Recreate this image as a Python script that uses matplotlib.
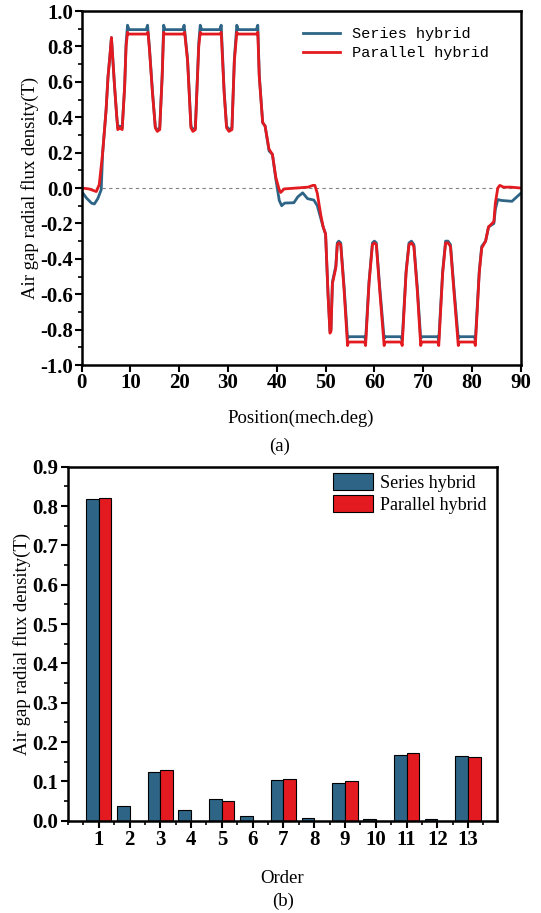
import matplotlib
matplotlib.use("Agg")
import matplotlib.pyplot as plt
from matplotlib.ticker import MultipleLocator

# ---- data ----
pos_series = [0, 1.0, 2.0, 2.6, 3.3, 4.0, 4.3, 5.0, 5.4, 5.8, 6.1, 6.4, 6.75, 7.2, 7.4, 7.8, 8.3, 8.8,
              9.1, 9.4, 9.7, 13.2, 13.5, 13.9, 14.5, 15.1, 15.5, 16.0, 16.5, 16.8, 17.1, 20.7, 21.0,
              21.7, 22.4, 22.8, 23.3, 24.0, 24.3, 24.6, 28.3, 28.6, 29.2, 29.7, 30.2, 30.8, 31.3,
              31.8, 32.1, 35.8, 36.1, 36.4, 37.1, 37.6, 38.4, 39.1, 39.8, 40.5, 41.0, 41.6, 43.5,
              44.3, 45.3, 46.3, 47.6, 48.3, 49.0, 49.5, 50.0, 50.5, 50.9, 51.1, 51.4, 52.1, 52.4,
              52.7, 53.1, 53.8, 54.5, 54.8, 58.0, 58.2, 58.9, 59.6, 60.0, 60.4, 61.1, 62.0, 62.3,
              65.5, 65.7, 66.5, 67.1, 67.6, 68.1, 68.8, 69.5, 69.8, 73.0, 73.2, 74.0, 74.6, 75.1,
              75.6, 76.3, 77.2, 77.5, 80.5, 80.7, 81.5, 82.0, 82.8, 83.4, 84.5, 84.8, 85.3, 86.0,
              88.2, 90]
flux_series = [-0.02, -0.057, -0.085, -0.09, -0.06, -0.01, 0.2, 0.44, 0.63, 0.75, 0.85, 0.72, 0.57,
               0.40, 0.34, 0.35, 0.34, 0.57, 0.82, 0.92, 0.895, 0.895, 0.92, 0.79, 0.55, 0.34, 0.33,
               0.34, 0.64, 0.92, 0.895, 0.895, 0.92, 0.73, 0.35, 0.33, 0.34, 0.82, 0.92, 0.895,
               0.895, 0.92, 0.55, 0.35, 0.33, 0.34, 0.73, 0.92, 0.895, 0.895, 0.92, 0.64, 0.37,
               0.35, 0.21, 0.19, 0.05, -0.07, -0.10, -0.085, -0.083, -0.05, -0.027, -0.06, -0.068,
               -0.10, -0.17, -0.22, -0.26, -0.60, -0.81, -0.80, -0.53, -0.44, -0.31, -0.30, -0.31,
               -0.56, -0.85, -0.84, -0.84, -0.86, -0.53, -0.31, -0.30, -0.31, -0.56, -0.85, -0.84,
               -0.84, -0.86, -0.47, -0.31, -0.30, -0.32, -0.56, -0.85, -0.84, -0.84, -0.86, -0.47,
               -0.30, -0.30, -0.32, -0.56, -0.85, -0.84, -0.84, -0.86, -0.47, -0.33, -0.30, -0.22,
               -0.20, -0.12, -0.065, -0.07, -0.075, -0.03]

pos_parallel = [0, 1.5, 3.0, 3.6, 4.3, 5.0, 5.4, 5.8, 6.1, 6.4, 6.75, 7.2, 7.4, 7.8, 8.3, 8.8, 9.1,
                9.4, 9.6, 13.3, 13.6, 13.9, 14.5, 15.1, 15.5, 16.0, 16.5, 16.8, 17.0, 20.8, 21.1,
                21.7, 22.4, 22.8, 23.3, 24.0, 24.3, 24.5, 28.4, 28.6, 29.2, 29.7, 30.2, 30.8, 31.3,
                31.8, 32.0, 35.9, 36.1, 36.4, 37.1, 37.6, 38.4, 39.1, 39.8, 40.5, 40.8, 41.5, 44.0,
                46.4, 47.4, 47.8, 48.3, 49.0, 49.5, 50.0, 50.5, 50.9, 51.1, 51.4, 52.1, 52.4, 52.7,
                53.1, 53.8, 54.5, 54.7, 58.0, 58.2, 58.9, 59.6, 60.0, 60.4, 61.1, 62.0, 62.2, 65.5,
                65.7, 66.5, 67.1, 67.6, 68.1, 68.8, 69.5, 69.7, 73.0, 73.2, 74.0, 74.6, 75.1, 75.6,
                76.3, 77.2, 77.4, 80.5, 80.7, 81.5, 82.0, 82.8, 83.4, 84.5, 84.8, 85.3, 85.7, 86.5,
                88.0, 90]
flux_parallel = [0.0, -0.005, -0.02, 0.02, 0.2, 0.44, 0.63, 0.75, 0.85, 0.72, 0.57, 0.40, 0.33,
                 0.34, 0.33, 0.57, 0.80, 0.88, 0.87, 0.87, 0.88, 0.78, 0.54, 0.34, 0.32, 0.33, 0.63,
                 0.88, 0.87, 0.87, 0.88, 0.72, 0.34, 0.32, 0.33, 0.80, 0.88, 0.87, 0.87, 0.88, 0.54,
                 0.34, 0.32, 0.33, 0.72, 0.88, 0.87, 0.87, 0.88, 0.63, 0.37, 0.35, 0.22, 0.19, 0.06,
                 -0.01, -0.025, -0.005, 0.0, 0.005, 0.015, 0.015, -0.03, -0.15, -0.22, -0.26, -0.60,
                 -0.82, -0.81, -0.54, -0.45, -0.32, -0.31, -0.32, -0.58, -0.89, -0.87, -0.87, -0.89,
                 -0.54, -0.32, -0.31, -0.32, -0.58, -0.89, -0.87, -0.87, -0.89, -0.48, -0.32, -0.31,
                 -0.33, -0.58, -0.89, -0.87, -0.87, -0.89, -0.48, -0.31, -0.31, -0.33, -0.58, -0.89,
                 -0.87, -0.87, -0.89, -0.48, -0.34, -0.30, -0.22, -0.19, -0.085, 0.0, 0.015, 0.005,
                 0.005, 0.0]

orders = [1, 2, 3, 4, 5, 6, 7, 8, 9, 10, 11, 12, 13]
amp_series = [0.818, 0.037, 0.123, 0.026, 0.055, 0.013, 0.103, 0.007, 0.096, 0.005, 0.166, 0.004, 0.165]
amp_parallel = [0.821, 0.0, 0.129, 0.0, 0.049, 0.0, 0.106, 0.0, 0.100, 0.0, 0.172, 0.0, 0.163]

blue = "#2E6586"
red = "#E31B20"

plt.rcParams['font.family'] = ['Liberation Serif', 'DejaVu Serif']
plt.rcParams['axes.linewidth'] = 1.8
plt.rcParams['axes.unicode_minus'] = False

fig = plt.figure(figsize=(5.41, 9.13), dpi=100)

# ---- (a) waveform ----
ax1 = fig.add_axes([0.151, 0.6002, 0.8115, 0.3877])
ax1.axhline(0, color='gray', lw=0.8, ls=(0, (3, 3)), zorder=1)
ax1.plot(pos_series, flux_series, color=blue, lw=2, label='Series hybrid')
ax1.plot(pos_parallel, flux_parallel, color=red, lw=2, label='Parallel hybrid')
ax1.set_xlim(0, 90)
ax1.set_ylim(-1.0, 1.0)
ax1.xaxis.set_major_locator(MultipleLocator(10))
ax1.yaxis.set_major_locator(MultipleLocator(0.2))
ax1.yaxis.set_minor_locator(MultipleLocator(0.1))
ax1.tick_params(axis='both', which='major', direction='out', length=5, width=1.5,
                labelsize=15, pad=1)
ax1.tick_params(axis='y', which='minor', direction='out', length=3, width=1.2)
for lab in ax1.get_xticklabels() + ax1.get_yticklabels():
    lab.set_fontweight('bold')
ax1.set_xlabel('Position(mech.deg)', fontsize=13.5, labelpad=12)
ax1.set_ylabel('Air gap radial flux density(T)', fontsize=13.5, labelpad=1)
ax1.legend(loc='upper left', bbox_to_anchor=(0.504, 0.955), frameon=False,
           prop={'family': 'Liberation Mono', 'size': 11}, handlelength=2.4,
           labelspacing=0.35, borderpad=0, borderaxespad=0)
fig.text(0.516, 0.511, '(a)', ha='center', va='center', fontsize=13.5)

# ---- (b) harmonic spectrum ----
w = 0.41
ax2 = fig.add_axes([0.1257, 0.1011, 0.7924, 0.3877])
ax2.bar([o - w / 2 for o in orders], amp_series, width=w, color=blue, edgecolor='black',
        lw=0.8, label='Series hybrid')
ax2.bar([o + w / 2 for o in orders], amp_parallel, width=w, color=red, edgecolor='black',
        lw=0.8, label='Parallel hybrid')
ax2.set_xlim(0, 13.93)
ax2.set_ylim(0, 0.9)
ax2.set_xticks(orders)
ax2.xaxis.set_minor_locator(MultipleLocator(0.5))
ax2.yaxis.set_major_locator(MultipleLocator(0.1))
ax2.yaxis.set_minor_locator(MultipleLocator(0.05))
ax2.tick_params(axis='both', which='major', direction='out', length=5, width=1.5,
                labelsize=15, pad=2)
ax2.tick_params(axis='both', which='minor', direction='out', length=3, width=1.2)
for lab in ax2.get_xticklabels() + ax2.get_yticklabels():
    lab.set_fontweight('bold')
ax2.set_xlabel('Order', fontsize=13.5, labelpad=14)
ax2.set_ylabel('Air gap radial flux density(T)', fontsize=13.5, labelpad=1)
ax2.legend(loc='upper left', bbox_to_anchor=(0.618, 0.983), frameon=False, fontsize=13,
           handlelength=2.2, handleheight=1.1, labelspacing=0.2, handletextpad=0.4,
           borderpad=0, borderaxespad=0)
fig.text(0.523, 0.013, '(b)', ha='center', va='center', fontsize=13.5)

fig.savefig('out.png', dpi=100)
